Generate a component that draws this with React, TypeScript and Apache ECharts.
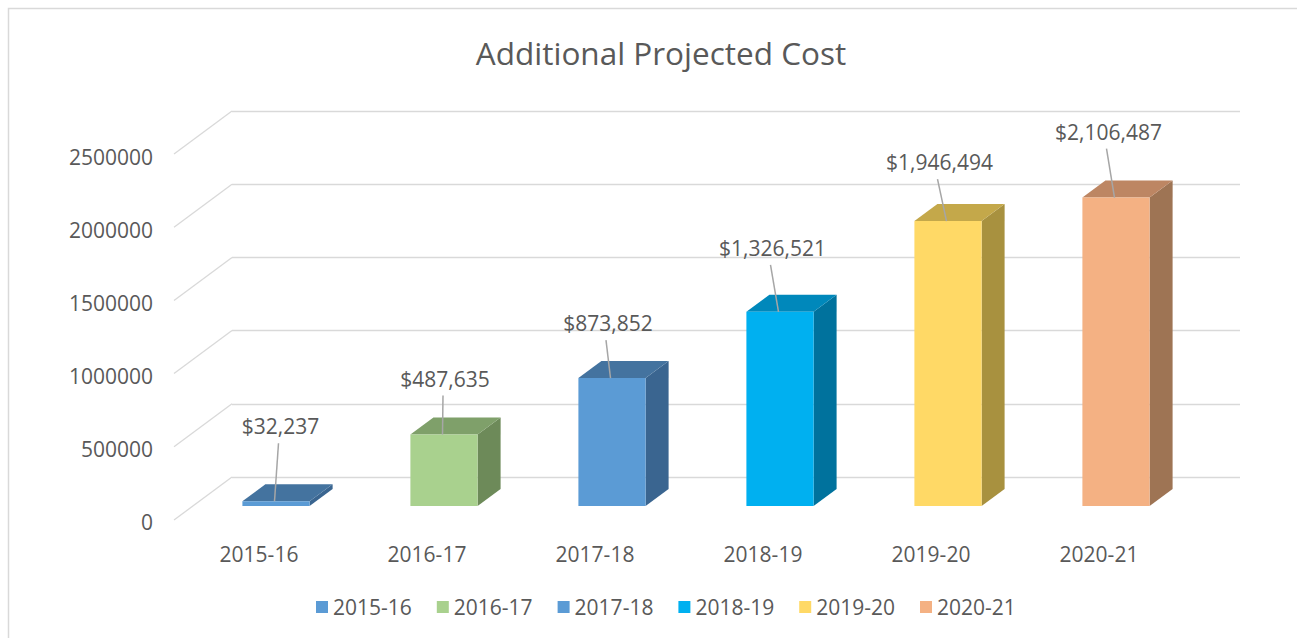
import React, { useEffect, useRef } from "react";
import * as echarts from "echarts";

// ---- data ----
const categories = ["2015-16", "2016-17", "2017-18", "2018-19", "2019-20", "2020-21"];
const costs = [32237, 487635, 873852, 1326521, 1946494, 2106487];
const yTicks = [0, 500000, 1000000, 1500000, 2000000, 2500000];

// ---- styles ----
const frontColors = ["#5B9BD5", "#A9D18E", "#5B9BD5", "#00B0F0", "#FFD966", "#F4B183"];
const topColors = ["#44739F", "#7FA06A", "#44739F", "#0088BB", "#C4A84A", "#BD8663"];
const sideColors = ["#3A6590", "#6D8A59", "#3A6590", "#00729D", "#A8913F", "#9E7454"];
// label placement relative to the top-front edge centre of each bar [dx, rise]
const labelNudges = [
  [4.5, 75],
  [1, 56],
  [-4, 55],
  [-7.5, 64],
  [-8.5, 59],
  [-7.5, 66],
];

const TEXT = "#595959";
const GRID_LINE = "#D9D9D9";
const FONT = "'Open Sans', sans-serif";
const LABEL_SIZE = 21;

// back wall geometry
const BACK_LEFT = 232;
const BACK_TOP = 111;
const BACK_W = 1008;
const BACK_H = 366;
// front edge offset of the floor relative to the back wall
const FLOOR_DX = -58;
const FLOOR_DY = 43;
// bar front face offset relative to the back-wall point
const BAR_DX = -40;
const BAR_DY = 29;
// bar depth vector
const DEPTH_X = 23;
const DEPTH_Y = -17;

const fmt = (v: number) => "$" + v.toLocaleString("en-US");

export default function App() {
  const ref = useRef<HTMLDivElement>(null);

  useEffect(() => {
    if (!ref.current) return;
    const chart = echarts.init(ref.current, null, { renderer: "svg" });

    const barSeries = categories.map((name, i) => ({
      type: "custom",
      name,
      xAxisIndex: 0,
      yAxisIndex: 0,
      itemStyle: { color: frontColors[i] },
      encode: { x: 0, y: 1 },
      data: [[i, costs[i]]],
      z: 5,
      renderItem: (params: any, api: any) => {
        const idx = api.value(0);
        const v = api.value(1);
        const base = api.coord([idx, 0]);
        const topP = api.coord([idx, v]);
        const w = api.size([1, 0])[0] * 0.4;
        const cx = base[0] + BAR_DX;
        const yb = base[1] + BAR_DY;
        const yt = topP[1] + BAR_DY;
        const x0 = cx - w / 2;
        const x1 = cx + w / 2;
        const [ndx, rise] = labelNudges[idx];
        const lx = cx + ndx;
        const ly = yt - rise;
        return {
          type: "group",
          children: [
            {
              type: "polygon",
              shape: {
                points: [
                  [x1, yt],
                  [x1, yb],
                  [x1 + DEPTH_X, yb + DEPTH_Y],
                  [x1 + DEPTH_X, yt + DEPTH_Y],
                ],
              },
              style: { fill: sideColors[idx] },
            },
            {
              type: "polygon",
              shape: {
                points: [
                  [x0, yt],
                  [x1, yt],
                  [x1 + DEPTH_X, yt + DEPTH_Y],
                  [x0 + DEPTH_X, yt + DEPTH_Y],
                ],
              },
              style: { fill: topColors[idx] },
            },
            {
              type: "rect",
              shape: { x: x0, y: yt, width: w, height: Math.max(yb - yt, 0) },
              style: { fill: frontColors[idx] },
            },
            {
              type: "line",
              shape: { x1: lx - 2, y1: ly + 17, x2: cx - 1.5, y2: yt },
              style: { stroke: "#A6A6A6", lineWidth: 1.5 },
            },
            {
              type: "text",
              x: lx,
              y: ly,
              style: {
                text: fmt(v),
                fill: TEXT,
                fontSize: LABEL_SIZE,
                fontFamily: FONT,
                align: "center",
                verticalAlign: "middle",
              },
            },
          ],
        };
      },
    }));

    const diagonalSeries = {
      type: "custom",
      name: "walls",
      xAxisIndex: 0,
      yAxisIndex: 0,
      encode: { x: 0, y: 1 },
      data: yTicks.map((t) => [0, t]),
      z: 1,
      silent: true,
      renderItem: (params: any, api: any) => {
        const p = api.coord([0, api.value(1)]);
        const x = params.coordSys.x;
        return {
          type: "line",
          shape: { x1: x, y1: p[1], x2: x + FLOOR_DX, y2: p[1] + FLOOR_DY },
          style: { stroke: GRID_LINE, lineWidth: 1.3 },
        };
      },
    };

    chart.setOption({
      animation: false,
      backgroundColor: "#ffffff",
      textStyle: { fontFamily: FONT },
      grid: [
        { left: BACK_LEFT, top: BACK_TOP, width: BACK_W, height: BACK_H, containLabel: false },
        { left: BACK_LEFT + FLOOR_DX + 1, top: BACK_TOP + 46, width: BACK_W, height: 365, containLabel: false },
      ],
      xAxis: [
        {
          type: "category",
          gridIndex: 0,
          data: categories,
          axisLine: { show: false },
          axisTick: { show: false },
          axisLabel: { show: false },
          splitLine: { show: false },
        },
        {
          type: "category",
          gridIndex: 1,
          data: categories,
          axisLine: { show: false },
          axisTick: { show: false },
          axisLabel: {
            color: TEXT,
            fontSize: LABEL_SIZE,
            fontFamily: FONT,
            margin: 20,
            lineHeight: 24,
          },
          splitLine: { show: false },
        },
      ],
      yAxis: [
        {
          type: "value",
          gridIndex: 0,
          min: 0,
          max: 2500000,
          interval: 500000,
          axisLine: { show: false },
          axisTick: { show: false },
          axisLabel: { show: false },
          splitLine: { show: true, lineStyle: { color: GRID_LINE, width: 1.3 } },
        },
        {
          type: "value",
          gridIndex: 1,
          min: 0,
          max: 2500000,
          interval: 500000,
          axisLine: { show: false },
          axisTick: { show: false },
          axisLabel: {
            color: TEXT,
            fontSize: LABEL_SIZE,
            fontFamily: FONT,
            margin: 22,
            formatter: (v: number) => String(v),
          },
          splitLine: { show: false },
        },
      ],
      legend: {
        data: categories,
        left: 311,
        top: 590,
        icon: "rect",
        itemWidth: 12,
        itemHeight: 12,
        itemGap: 25,
        textStyle: { color: TEXT, fontSize: LABEL_SIZE, fontFamily: FONT, lineHeight: 24 },
      },
      graphic: [
        {
          type: "rect",
          shape: { x: 8.5, y: 8.5, width: 1400, height: 800 },
          style: { fill: "none", stroke: GRID_LINE, lineWidth: 1.5 },
          silent: true,
          z: -10,
        },
        {
          type: "text",
          x: 661,
          y: 52,
          style: {
            text: "Additional Projected Cost",
            fill: TEXT,
            fontSize: 31.5,
            fontFamily: FONT,
            align: "center",
            verticalAlign: "middle",
          },
        },
      ],
      series: [diagonalSeries, ...barSeries],
    });

    return () => chart.dispose();
  }, []);

  return (
    <div
      ref={ref}
      style={{ position: "absolute", left: 0, top: 0, width: 1297, height: 638 }}
    />
  );
}
